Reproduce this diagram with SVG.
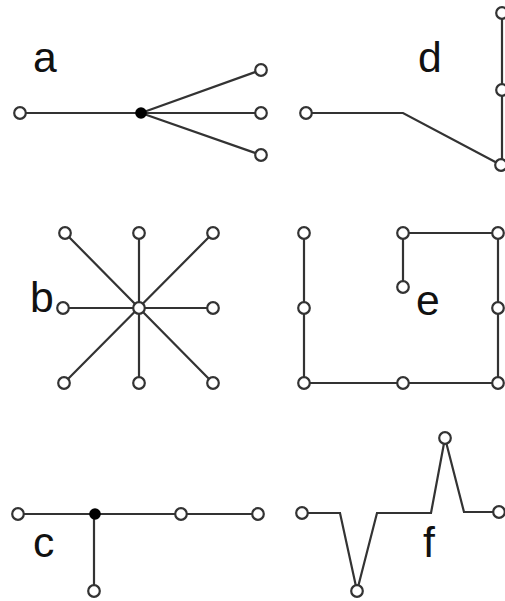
<svg xmlns="http://www.w3.org/2000/svg" width="505" height="601" viewBox="0 0 505 601">
<style>
.e{fill:none;stroke:#333;stroke-width:2.2;stroke-linejoin:miter}
.n{fill:#fff;stroke:#333;stroke-width:2.2}
.j{fill:#000;stroke:none}
.l{font-family:"Liberation Sans",Arial,sans-serif;font-size:42.7px;fill:#111}
</style>
<rect width="505" height="601" fill="#fff"/>
<g id="connectors">
  <path class="e" d="M20,113 H261 M141,113 L261,70 M141,113 L261,155"/>
  <path class="e" d="M306,113 H403 L501,165 M502,13 V165"/>
  <path class="e" d="M65,233 L213,383 M213,233 L64,383 M139,233 V383 M63,308 H213"/>
  <path class="e" d="M304,233 V383 H498 V233 H403 V287"/>
  <path class="e" d="M18,514 H258 M94,514 V591"/>
  <path class="e" d="M302,513 H340 L357,591 L377,513 H431 L445,438 L464,512 H499"/>
</g>
<g id="panel-a">
  <text class="l" x="33" y="72">a</text>
  <circle class="n" cx="20" cy="113" r="5.8"/>
  <circle class="j" cx="141" cy="113" r="5.8"/>
  <circle class="n" cx="261" cy="70" r="5.8"/>
  <circle class="n" cx="261" cy="113" r="5.8"/>
  <circle class="n" cx="261" cy="155" r="5.8"/>
</g>
<g id="panel-d">
  <text class="l" x="418" y="72">d</text>
  <circle class="n" cx="306" cy="113" r="5.8"/>
  <circle class="n" cx="502" cy="13" r="5.8"/>
  <circle class="n" cx="502" cy="90" r="5.8"/>
  <circle class="n" cx="501" cy="165" r="5.8"/>
</g>
<g id="panel-b">
  <text class="l" x="30" y="312">b</text>
  <circle class="n" cx="65" cy="233" r="5.8"/>
  <circle class="n" cx="139" cy="233" r="5.8"/>
  <circle class="n" cx="213" cy="233" r="5.8"/>
  <circle class="n" cx="63" cy="308" r="5.8"/>
  <circle class="n" cx="139" cy="308" r="5.8"/>
  <circle class="n" cx="213" cy="308" r="5.8"/>
  <circle class="n" cx="64" cy="383" r="5.8"/>
  <circle class="n" cx="139" cy="383" r="5.8"/>
  <circle class="n" cx="213" cy="383" r="5.8"/>
</g>
<g id="panel-e">
  <text class="l" x="416" y="315">e</text>
  <circle class="n" cx="304" cy="233" r="5.8"/>
  <circle class="n" cx="304" cy="308" r="5.8"/>
  <circle class="n" cx="304" cy="383" r="5.8"/>
  <circle class="n" cx="403" cy="383" r="5.8"/>
  <circle class="n" cx="498" cy="383" r="5.8"/>
  <circle class="n" cx="498" cy="308" r="5.8"/>
  <circle class="n" cx="498" cy="233" r="5.8"/>
  <circle class="n" cx="403" cy="233" r="5.8"/>
  <circle class="n" cx="403" cy="287" r="5.8"/>
</g>
<g id="panel-c">
  <text class="l" x="33" y="557">c</text>
  <circle class="n" cx="18" cy="514" r="5.8"/>
  <circle class="j" cx="95" cy="514" r="5.8"/>
  <circle class="n" cx="181" cy="514" r="5.8"/>
  <circle class="n" cx="258" cy="514" r="5.8"/>
  <circle class="n" cx="94" cy="591" r="5.8"/>
</g>
<g id="panel-f">
  <text class="l" x="423" y="557">f</text>
  <circle class="n" cx="302" cy="513" r="5.8"/>
  <circle class="n" cx="357" cy="591" r="5.8"/>
  <circle class="n" cx="445" cy="438" r="5.8"/>
  <circle class="n" cx="499" cy="512" r="5.8"/>
</g>
</svg>
